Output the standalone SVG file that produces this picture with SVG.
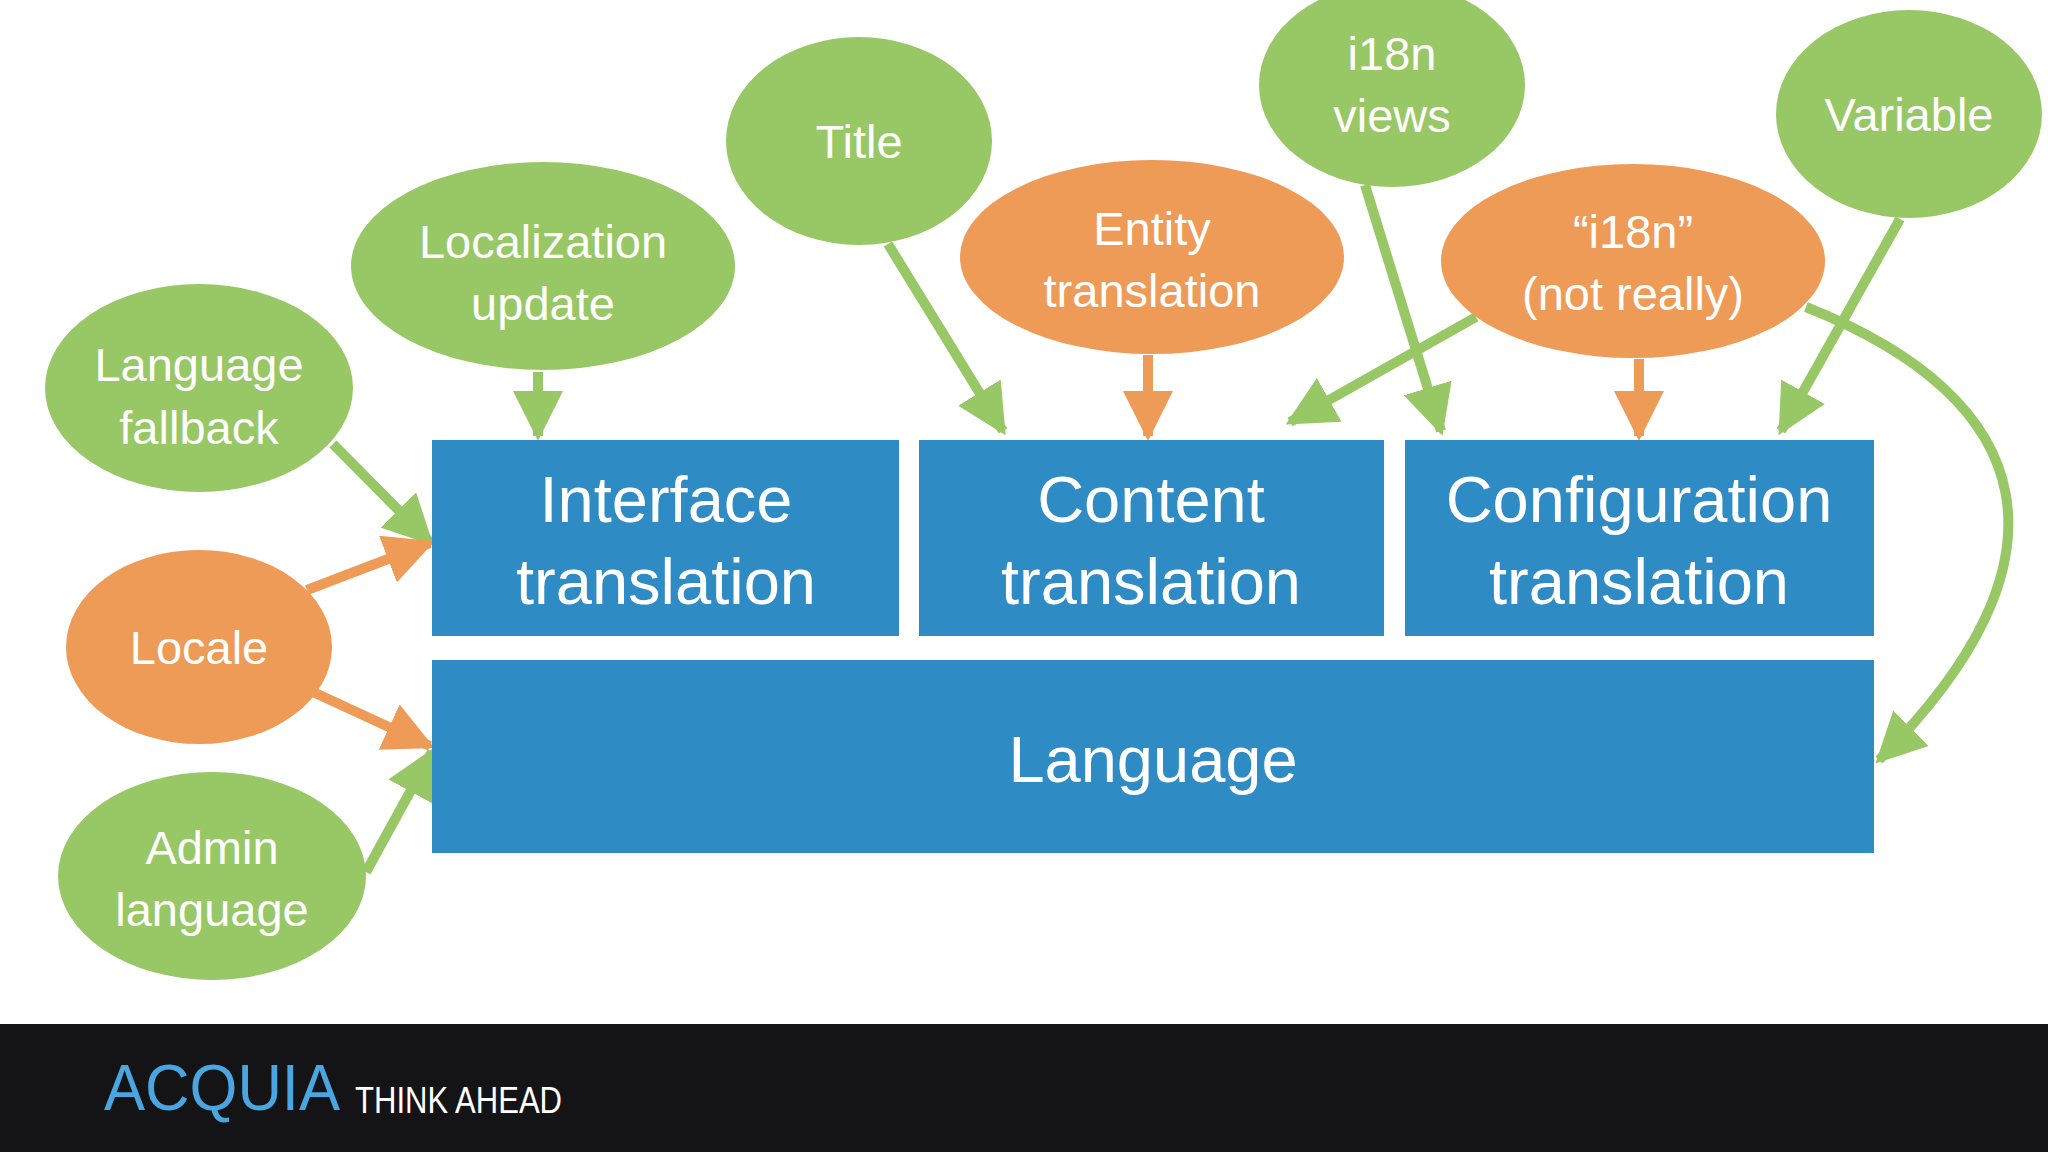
<svg xmlns="http://www.w3.org/2000/svg" width="2048" height="1152" viewBox="0 0 2048 1152">
<style>
.g{fill:#98c765}.o{fill:#ee9b58}.b{fill:#2e8bc4}
text{font-family:"Liberation Sans",Arial,sans-serif;fill:#fff;text-anchor:middle}
.e{font-size:47px}.t{font-size:65px}
.cg{stroke:#98c765;stroke-width:10;fill:none;marker-end:url(#ag)}
.co{stroke:#ee9b58;stroke-width:10;fill:none;marker-end:url(#ao)}
</style>
<defs>
<marker id="ag" viewBox="0 0 10 10" refX="9" refY="5" markerWidth="5" markerHeight="5" orient="auto"><path d="M0,0L10,5L0,10z" fill="#98c765"/></marker>
<marker id="ao" viewBox="0 0 10 10" refX="9" refY="5" markerWidth="5" markerHeight="5" orient="auto"><path d="M0,0L10,5L0,10z" fill="#ee9b58"/></marker>
</defs>
<rect width="2048" height="1152" fill="#fff"/>
<g id="connectors">
<path class="cg" d="M333,444L430,542"/>
<path class="cg" d="M538,372L538,436"/>
<path class="cg" d="M888,244L1003,431"/>
<path class="co" d="M1148,355L1148,436"/>
<path class="cg" d="M1476,317L1290,422"/>
<path class="cg" d="M1365,185L1441,431"/>
<path class="co" d="M1639,359L1639,436"/>
<path class="cg" d="M1900,219L1781,431"/>
<path class="cg" d="M1806,307C2040,400 2080,560 1879,760"/>
<path class="co" d="M307,590L430,543"/>
<path class="co" d="M313,692L430,746"/>
<path class="cg" d="M366,872L432,752"/>
</g>
<g id="interface"><rect class="b" x="432" y="440" width="467" height="196"/><text class="t" x="666" y="522">Interface</text><text class="t" x="666" y="604">translation</text></g>
<g id="content"><rect class="b" x="919" y="440" width="465" height="196"/><text class="t" x="1151" y="522">Content</text><text class="t" x="1151" y="604">translation</text></g>
<g id="config"><rect class="b" x="1405" y="440" width="469" height="196"/><text class="t" x="1639" y="522">Configuration</text><text class="t" x="1639" y="604">translation</text></g>
<g id="language"><rect class="b" x="432" y="660" width="1442" height="193"/><text class="t" x="1153" y="782">Language</text></g>
<g id="fallback"><ellipse class="g" cx="199" cy="388" rx="154" ry="104"/><text class="e" x="199" y="381">Language</text><text class="e" x="199" y="444">fallback</text></g>
<g id="locupdate"><ellipse class="g" cx="543" cy="266" rx="192" ry="104"/><text class="e" x="543" y="258">Localization</text><text class="e" x="543" y="320">update</text></g>
<g id="title"><ellipse class="g" cx="859" cy="141" rx="133" ry="104"/><text class="e" x="859" y="158">Title</text></g>
<g id="entity"><ellipse class="o" cx="1152" cy="257" rx="192" ry="97"/><text class="e" x="1152" y="245">Entity</text><text class="e" x="1152" y="307">translation</text></g>
<g id="views"><ellipse class="g" cx="1392" cy="85" rx="133" ry="102"/><text class="e" x="1392" y="70">i18n</text><text class="e" x="1392" y="132">views</text></g>
<g id="notreally"><ellipse class="o" cx="1633" cy="261" rx="192" ry="97"/><text class="e" x="1633" y="248">“i18n”</text><text class="e" x="1633" y="310">(not really)</text></g>
<g id="variable"><ellipse class="g" cx="1909" cy="114" rx="133" ry="104"/><text class="e" x="1909" y="131">Variable</text></g>
<g id="locale"><ellipse class="o" cx="199" cy="647" rx="133" ry="97"/><text class="e" x="199" y="664">Locale</text></g>
<g id="admin"><ellipse class="g" cx="212" cy="876" rx="154" ry="104"/><text class="e" x="212" y="864">Admin</text><text class="e" x="212" y="926">language</text></g>
<g id="footer"><rect x="0" y="1024" width="2048" height="128" fill="#141416"/>
<text x="104" y="1110" textLength="236" lengthAdjust="spacingAndGlyphs" style="font-size:64px;fill:#4aa6e0;text-anchor:start">ACQUIA</text>
<text x="355" y="1113" textLength="207" lengthAdjust="spacingAndGlyphs" style="font-size:36px;text-anchor:start">THINK AHEAD</text></g>
</svg>
